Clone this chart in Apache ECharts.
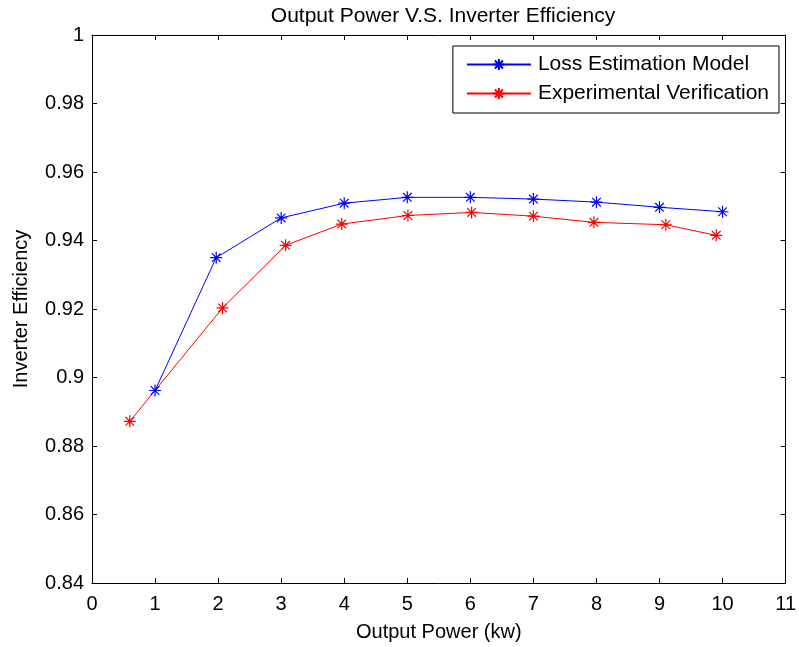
<!DOCTYPE html>
<html>
<head>
<meta charset="utf-8">
<script src="https://cdn.jsdelivr.net/npm/echarts@6/dist/echarts.min.js"></script>
<style>
html,body{margin:0;padding:0;background:#fff;}
#chart{width:799px;height:647px;}
</style>
</head>
<body>
<div id="chart"></div>
<script>
var titleText = 'Output Power V.S. Inverter Efficiency';
var xName = 'Output Power (kw)';
var yName = 'Inverter Efficiency';
var seriesNames = ['Loss Estimation Model', 'Experimental Verification'];
var lossX = [1, 1.97, 3, 4, 5, 6, 7, 8, 9, 10];
var lossY = [0.8962, 0.9350, 0.9466, 0.9509, 0.9526, 0.9526, 0.9521, 0.9512, 0.9497, 0.9484];
var expX = [0.6, 2.07, 3.07, 3.96, 5.01, 6.02, 7.0, 7.96, 9.1, 9.9];
var expY = [0.8872, 0.9203, 0.9386, 0.9448, 0.9473, 0.9482, 0.9471, 0.9453, 0.9446, 0.9415];
var xMin = 0, xMax = 11, xStep = 1;
var yMin = 0.84, yMax = 1, yStep = 0.02;

function pairs(xs, ys) { return xs.map(function (x, i) { return [x, ys[i]]; }); }

var FONT = "'Liberation Sans', Arial, sans-serif";
var FS = 20;
var star = 'path://M0,-5L0,5M-5,0L5,0M-3.6,-3.6L3.6,3.6M-3.6,3.6L3.6,-3.6';

var chart = echarts.init(document.getElementById('chart'), null, {renderer: 'canvas'});
var axisLine = {show: true, onZero: false, lineStyle: {color: '#000', width: 1}};
var tick = {show: true, inside: true, length: 5, lineStyle: {color: '#000', width: 1}};
chart.setOption({
  animation: false,
  backgroundColor: '#fff',
  textStyle: {fontFamily: FONT},
  title: {
    text: titleText, left: 438, top: 1, textAlign: 'center',
    textStyle: {fontFamily: FONT, fontSize: 21, fontWeight: 'normal', color: '#000'}
  },
  legend: {
    orient: 'vertical', right: 20, top: 46,
    data: seriesNames,
    itemWidth: 64, itemHeight: 14, itemGap: 8,
    padding: [8, 10, 9, 13],
    borderColor: '#000', borderWidth: 1, backgroundColor: '#fff',
    textStyle: {fontFamily: FONT, fontSize: 21, color: '#000', padding: [0, 0, 0, 2]}
  },
  grid: {left: 92, right: 11, top: 35, bottom: 64, containLabel: false},
  xAxis: [{
    type: 'value', min: xMin, max: xMax, interval: xStep, position: 'bottom',
    name: xName, nameLocation: 'middle', nameGap: 39,
    nameTextStyle: {fontFamily: FONT, fontSize: FS, color: '#000'},
    axisLine: axisLine, axisTick: tick, splitLine: {show: false},
    axisLabel: {fontFamily: FONT, fontSize: FS, color: '#000', margin: 11}
  }, {
    type: 'value', min: xMin, max: xMax, interval: xStep, position: 'top',
    axisLine: axisLine, axisTick: tick, splitLine: {show: false}, axisLabel: {show: false}
  }],
  yAxis: [{
    type: 'value', min: yMin, max: yMax, interval: yStep, position: 'left',
    name: yName, nameLocation: 'middle', nameGap: 61,
    nameTextStyle: {fontFamily: FONT, fontSize: FS, color: '#000'},
    axisLine: axisLine, axisTick: tick, splitLine: {show: false},
    axisLabel: {fontFamily: FONT, fontSize: FS, color: '#000', margin: 8}
  }, {
    type: 'value', min: yMin, max: yMax, interval: yStep, position: 'right',
    axisLine: axisLine, axisTick: tick, splitLine: {show: false}, axisLabel: {show: false}
  }],
  series: [{
    name: seriesNames[0], type: 'line', xAxisIndex: 0, yAxisIndex: 0,
    data: pairs(lossX, lossY),
    symbol: star, symbolSize: 12, showAllSymbol: true,
    lineStyle: {color: '#0000ff', width: 1},
    itemStyle: {color: 'rgba(0,0,0,0)', borderColor: '#0000ff', borderWidth: 1.2}
  }, {
    name: seriesNames[1], type: 'line', xAxisIndex: 0, yAxisIndex: 0,
    data: pairs(expX, expY),
    symbol: star, symbolSize: 12, showAllSymbol: true,
    lineStyle: {color: '#ff0000', width: 1},
    itemStyle: {color: 'rgba(0,0,0,0)', borderColor: '#ff0000', borderWidth: 1.2}
  }]
});
</script>
</body>
</html>
